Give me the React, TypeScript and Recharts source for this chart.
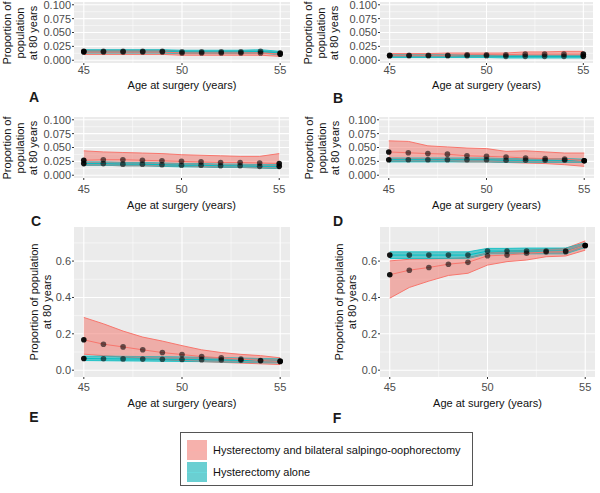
import React from 'react'
import { ComposedChart, Area, Line, XAxis, YAxis, CartesianGrid } from 'recharts'

const RED = '#F8766D'
const RED_FILL = '#F07A71'
const TEAL = '#00BFC4'
const TEAL_FILL = '#00ADB2'
const OVERLAP = '#8E9898'
const FONT = '"Liberation Sans", Arial, Helvetica, sans-serif'

const ages = [45, 46, 47, 48, 49, 50, 51, 52, 53, 54, 55]
const xMajor = [45, 50, 55]
const xMinor = [47.5, 52.5]

const smallTicks = [0, 0.025, 0.05, 0.075, 0.1]
const smallMinor = [0.0125, 0.0375, 0.0625, 0.0875]
const bigTicks = [0, 0.2, 0.4, 0.6]
const bigMinor = [0.1, 0.3, 0.5, 0.7]

// A
const aRed = [0.015, 0.015, 0.015, 0.015, 0.015, 0.013, 0.013, 0.013, 0.013, 0.013, 0.011]
const aRedLo = [0.0105, 0.0105, 0.0105, 0.0105, 0.0105, 0.009, 0.009, 0.009, 0.009, 0.009, 0.007]
const aRedHi = [0.018, 0.018, 0.018, 0.018, 0.018, 0.016, 0.016, 0.016, 0.016, 0.016, 0.014]
const aTeal = [0.016, 0.016, 0.016, 0.016, 0.016, 0.015, 0.015, 0.015, 0.015, 0.016, 0.013]
const aTealLo = [0.013, 0.013, 0.013, 0.013, 0.013, 0.012, 0.012, 0.012, 0.012, 0.013, 0.010]
const aTealHi = [0.019, 0.019, 0.019, 0.019, 0.019, 0.018, 0.018, 0.018, 0.018, 0.019, 0.016]

// B
const bRed = [0.009, 0.009, 0.009, 0.009, 0.010, 0.010, 0.010, 0.011, 0.011, 0.011, 0.011]
const bRedLo = [0.006, 0.006, 0.006, 0.006, 0.007, 0.007, 0.007, 0.007, 0.007, 0.007, 0.007]
const bRedHi = [0.012, 0.012, 0.012, 0.013, 0.013, 0.013, 0.013, 0.015, 0.015, 0.016, 0.016]
const bTeal = [0.008, 0.008, 0.008, 0.008, 0.008, 0.008, 0.007, 0.007, 0.007, 0.007, 0.007]
const bTealLo = [0.005, 0.005, 0.005, 0.005, 0.005, 0.005, 0.004, 0.004, 0.004, 0.004, 0.004]
const bTealHi = [0.010, 0.010, 0.010, 0.010, 0.010, 0.010, 0.009, 0.009, 0.009, 0.009, 0.009]

// C
const cRed = [0.027, 0.028, 0.028, 0.027, 0.026, 0.025, 0.024, 0.023, 0.023, 0.022, 0.021]
const cRedLo = [0.018, 0.018, 0.017, 0.017, 0.016, 0.016, 0.015, 0.014, 0.014, 0.013, 0.012]
const cRedHi = [0.044, 0.042, 0.041, 0.040, 0.039, 0.037, 0.036, 0.035, 0.034, 0.034, 0.039]
const cTeal = [0.021, 0.021, 0.020, 0.020, 0.019, 0.018, 0.018, 0.017, 0.017, 0.016, 0.016]
const cTealLo = [0.018, 0.018, 0.017, 0.017, 0.016, 0.015, 0.015, 0.014, 0.014, 0.013, 0.012]
const cTealHi = [0.024, 0.024, 0.023, 0.023, 0.022, 0.021, 0.021, 0.020, 0.020, 0.019, 0.019]

// D
const dRed = [0.042, 0.0405, 0.039, 0.038, 0.035, 0.034, 0.033, 0.031, 0.030, 0.029, 0.026]
const dRedLo = [0.025, 0.025, 0.025, 0.025, 0.024, 0.024, 0.023, 0.022, 0.021, 0.019, 0.016]
const dRedHi = [0.062, 0.061, 0.053, 0.051, 0.049, 0.048, 0.043, 0.044, 0.042, 0.040, 0.040]
const dTeal = [0.028, 0.028, 0.028, 0.028, 0.028, 0.028, 0.027, 0.027, 0.027, 0.027, 0.026]
const dTealLo = [0.024, 0.024, 0.024, 0.024, 0.024, 0.024, 0.023, 0.023, 0.023, 0.023, 0.023]
const dTealHi = [0.031, 0.031, 0.031, 0.031, 0.031, 0.031, 0.030, 0.030, 0.030, 0.030, 0.029]

// E
const eRed = [0.167, 0.143, 0.128, 0.112, 0.097, 0.086, 0.075, 0.068, 0.061, 0.053, 0.048]
const eRedLo = [0.088, 0.080, 0.072, 0.065, 0.058, 0.052, 0.047, 0.043, 0.039, 0.035, 0.031]
const eRedHi = [0.290, 0.255, 0.215, 0.182, 0.160, 0.135, 0.112, 0.097, 0.087, 0.080, 0.068]
const eTeal = [0.064, 0.063, 0.062, 0.061, 0.060, 0.059, 0.058, 0.056, 0.054, 0.052, 0.050]
const eTealLo = [0.053, 0.052, 0.051, 0.050, 0.049, 0.048, 0.047, 0.045, 0.043, 0.041, 0.040]
const eTealHi = [0.078, 0.077, 0.076, 0.075, 0.074, 0.073, 0.071, 0.069, 0.067, 0.064, 0.062]

// F
const fRed = [0.525, 0.55, 0.565, 0.583, 0.593, 0.629, 0.633, 0.643, 0.65, 0.652, 0.686]
const fRedLo = [0.396, 0.455, 0.49, 0.521, 0.533, 0.578, 0.597, 0.606, 0.624, 0.628, 0.66]
const fRedHi = [0.601, 0.61, 0.612, 0.615, 0.618, 0.645, 0.655, 0.66, 0.665, 0.67, 0.711]
const fTeal = [0.633, 0.633, 0.633, 0.633, 0.633, 0.655, 0.655, 0.655, 0.655, 0.655, 0.686]
const fTealLo = [0.614, 0.614, 0.614, 0.614, 0.614, 0.64, 0.64, 0.64, 0.64, 0.64, 0.675]
const fTealHi = [0.651, 0.651, 0.651, 0.651, 0.651, 0.67, 0.67, 0.672, 0.672, 0.672, 0.70]

const threeLineTitle = ['Proportion of', 'population', 'at 80 years']
const twoLineTitle = ['Proportion of population', 'at 80 years']
const xTitle = 'Age at surgery (years)'
const legendLabels = ['Hysterectomy and bilateral salpingo-oophorectomy', 'Hysterectomy alone']

interface Series {
  red: number[]; redLo: number[]; redHi: number[]
  teal: number[]; tealLo: number[]; tealHi: number[]
}

interface PanelSpec {
  letter: string
  series: Series
  plot: { x: number; y: number; w: number; h: number }
  big: boolean
  tickGap: number
  titleX: number
  xTitleY: number
  letterX: number
  letterY: number
}

const panels: PanelSpec[] = [
  { letter: 'A', series: { red: aRed, redLo: aRedLo, redHi: aRedHi, teal: aTeal, tealLo: aTealLo, tealHi: aTealHi },
    plot: { x: 74, y: 2, w: 216, h: 61 }, big: false, tickGap: 1, titleX: 20, xTitleY: 85, letterX: 34, letterY: 97 },
  { letter: 'B', series: { red: bRed, redLo: bRedLo, redHi: bRedHi, teal: bTeal, tealLo: bTealLo, tealHi: bTealHi },
    plot: { x: 380, y: 2, w: 213, h: 61 }, big: false, tickGap: 1, titleX: 321, xTitleY: 85, letterX: 338, letterY: 98 },
  { letter: 'C', series: { red: cRed, redLo: cRedLo, redHi: cRedHi, teal: cTeal, tealLo: cTealLo, tealHi: cTealHi },
    plot: { x: 74, y: 117, w: 215, h: 61 }, big: false, tickGap: 5, titleX: 20, xTitleY: 205, letterX: 36, letterY: 221 },
  { letter: 'D', series: { red: dRed, redLo: dRedLo, redHi: dRedHi, teal: dTeal, tealLo: dTealLo, tealHi: dTealHi },
    plot: { x: 379, y: 117, w: 215, h: 61 }, big: false, tickGap: 5, titleX: 322, xTitleY: 205, letterX: 338, letterY: 221 },
  { letter: 'E', series: { red: eRed, redLo: eRedLo, redHi: eRedHi, teal: eTeal, tealLo: eTealLo, tealHi: eTealHi },
    plot: { x: 74, y: 227, w: 216, h: 150 }, big: true, tickGap: 4, titleX: 40.5, xTitleY: 403, letterX: 34, letterY: 417 },
  { letter: 'F', series: { red: fRed, redLo: fRedLo, redHi: fRedHi, teal: fTeal, tealLo: fTealLo, tealHi: fTealHi },
    plot: { x: 380, y: 227, w: 215, h: 150 }, big: true, tickGap: 4, titleX: 346, xTitleY: 403, letterX: 337, letterY: 418 },
]

function buildRows(s: Series) {
  return ages.map((age, i) => {
    const lo = Math.max(s.redLo[i], s.tealLo[i])
    const hi = Math.min(s.redHi[i], s.tealHi[i])
    const mid = (lo + hi) / 2
    return {
      age,
      red: s.red[i],
      teal: s.teal[i],
      redBand: [s.redLo[i], s.redHi[i]],
      tealBand: [s.tealLo[i], s.tealHi[i]],
      overlap: hi > lo ? [lo, hi] : [mid, mid],
    }
  })
}

const renderDot = (props: any) => {
  const last = props.index === 0 || props.index === ages.length - 1
  return (
    <circle key={`dot-${props.index}`} cx={props.cx} cy={props.cy} r={2.8}
      fill="#000" fillOpacity={last ? 0.92 : 0.58} stroke="none" />
  )
}

const YW = 50
const PAD = 4
const XH = 18

function Panel({ spec }: { spec: PanelSpec }) {
  const { plot, big } = spec
  const rows = buildRows(spec.series)
  const yDomain = big ? [-0.0375, 0.7875] : [-0.005, 0.105]
  const yTicks = big ? bigTicks : smallTicks
  const yMinor = big ? bigMinor : smallMinor
  const digits = big ? 1 : 3
  const tickStyle = { fill: '#4D4D4D', fontSize: 11 }
  return (
    <div style={{ position: 'absolute', left: plot.x - YW, top: plot.y - PAD }}>
      <ComposedChart width={YW + plot.w + PAD} height={PAD + plot.h + XH} data={rows}
        margin={{ top: PAD, right: PAD, left: 0, bottom: 0 }}>
        <CartesianGrid fill="#EBEBEB" stroke="#FFFFFF" strokeWidth={0.5}
          horizontalValues={yMinor} verticalValues={xMinor} />
        <CartesianGrid stroke="#FFFFFF" strokeWidth={1.1}
          horizontalValues={yTicks} verticalValues={xMajor} />
        <XAxis dataKey="age" type="number" domain={[44.5, 55.5]} ticks={xMajor} allowDataOverflow
          interval={0} axisLine={false} tickLine={{ stroke: '#333333' }} tickSize={2}
          tickMargin={spec.tickGap} height={XH} tick={tickStyle} />
        <YAxis type="number" domain={yDomain} ticks={yTicks} allowDataOverflow interval={0}
          axisLine={false} tickLine={{ stroke: '#333333' }} tickSize={2} tickMargin={1} width={YW}
          tick={tickStyle} tickFormatter={(v: number) => v.toFixed(digits)} />
        <Area type="linear" dataKey="redBand" fill={RED_FILL} fillOpacity={0.55} stroke={RED}
          strokeWidth={1} dot={false} activeDot={false} isAnimationActive={false} />
        <Area type="linear" dataKey="tealBand" fill={TEAL_FILL} fillOpacity={0.6} stroke={TEAL}
          strokeWidth={0.8} dot={false} activeDot={false} isAnimationActive={false} />
        <Area type="linear" dataKey="overlap" fill={OVERLAP} fillOpacity={1} stroke="none"
          dot={false} activeDot={false} isAnimationActive={false} />
        <Line type="linear" dataKey="teal" stroke={TEAL} strokeWidth={1} dot={renderDot}
          activeDot={false} isAnimationActive={false} />
        <Line type="linear" dataKey="red" stroke={RED} strokeWidth={1} dot={renderDot}
          activeDot={false} isAnimationActive={false} />
      </ComposedChart>
    </div>
  )
}

function PanelText({ spec }: { spec: PanelSpec }) {
  const { plot } = spec
  const lines = spec.big ? twoLineTitle : threeLineTitle
  return (
    <>
      <div style={{
        position: 'absolute', left: spec.titleX, top: plot.y + plot.h / 2,
        transform: 'translate(-50%, -50%) rotate(-90deg)', whiteSpace: 'nowrap',
        textAlign: 'center', fontSize: 11, lineHeight: '13px', color: '#111',
      }}>
        {lines.map((l) => <div key={l}>{l}</div>)}
      </div>
      <div style={{
        position: 'absolute', left: plot.x + plot.w / 2, top: spec.xTitleY,
        transform: 'translate(-50%, -50%)', whiteSpace: 'nowrap', fontSize: 11, color: '#111',
      }}>{xTitle}</div>
      <div style={{
        position: 'absolute', left: spec.letterX, top: spec.letterY,
        transform: 'translate(-50%, -50%)', fontSize: 14, fontWeight: 'bold', color: '#1A1A1A',
      }}>{spec.letter}</div>
    </>
  )
}

function Legend() {
  const keys = [RED_FILL, TEAL_FILL]
  const lineColors = [RED, TEAL]
  return (
    <div style={{
      position: 'absolute', left: 180, top: 432, width: 293, height: 54,
      border: '1px solid #555', boxSizing: 'border-box', background: '#fff',
    }}>
      {keys.map((c, i) => (
        <React.Fragment key={c}>
          <div style={{
            position: 'absolute', left: 6, top: 7 + i * 22, width: 20, height: 20,
            background: c, opacity: 0.58,
          }}>
            <div style={{ position: 'absolute', left: 0, right: 0, top: 9.5, height: 1, background: lineColors[i] }} />
          </div>
          <div style={{
            position: 'absolute', left: 32, top: 17 + i * 22, transform: 'translateY(-50%)',
            fontSize: 11, color: '#111', whiteSpace: 'nowrap',
          }}>{legendLabels[i]}</div>
        </React.Fragment>
      ))}
    </div>
  )
}

export default function App() {
  return (
    <div style={{
      position: 'absolute', left: 0, top: 0, width: 600, height: 493, overflow: 'hidden',
      background: '#fff', fontFamily: FONT,
    }}>
      {panels.map((p) => <Panel key={p.letter} spec={p} />)}
      {panels.map((p) => <PanelText key={p.letter} spec={p} />)}
      <Legend />
    </div>
  )
}
